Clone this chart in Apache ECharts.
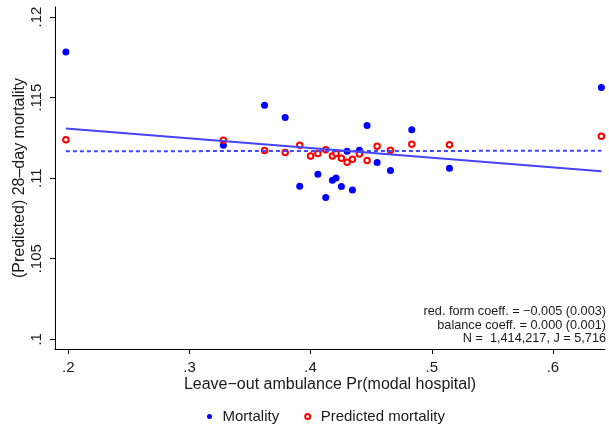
<!DOCTYPE html>
<html><head><meta charset="utf-8">
<script src="https://cdn.jsdelivr.net/npm/echarts@6/dist/echarts.min.js"></script>
<style>html,body{margin:0;padding:0;background:#fff}#c{width:609px;height:425px}</style>
</head><body><div id="c"></div>
<script>
// Shared x values (leave-out ambulance Pr(modal hospital)) for the 20 bins
const binX = [0.198, 0.328, 0.362, 0.379, 0.391, 0.400, 0.406, 0.4125, 0.418, 0.421,
              0.4254, 0.4301, 0.4345, 0.4403, 0.4466, 0.4549, 0.4659, 0.4835, 0.5146, 0.640];
const mortality = [0.11783, 0.11204, 0.11452, 0.11376, 0.10950, 0.11138, 0.11024, 0.10880, 0.10987, 0.11001,
                   0.10948, 0.11167, 0.10927, 0.11173, 0.11326, 0.11097, 0.11047, 0.11301, 0.11061, 0.11562];
const predicted = [0.11239, 0.11235, 0.11171, 0.11159, 0.11204, 0.11138, 0.11153, 0.11177, 0.11138, 0.11153,
                   0.11123, 0.11099, 0.11117, 0.11150, 0.11109, 0.11198, 0.11173, 0.11210, 0.11208, 0.11260];
// Fitted lines (endpoints)
const fitX = [0.198, 0.640];
const fitReduced = [0.11308, 0.11043];
const fitBalance = [0.11167, 0.11170];
// Ticks
const xTicks = [0.2, 0.3, 0.4, 0.5, 0.6];
const xTickLabels = ['.2', '.3', '.4', '.5', '.6'];
const yTicks = [0.1, 0.105, 0.11, 0.115, 0.12];
const yTickLabels = ['.1', '.105', '.11', '.115', '.12'];
const noteLines = ['red. form coeff. = \u22120.005 (0.003)', 'balance coeff. = 0.000 (0.001)', 'N =  1,414,217, J = 5,716'];

const FONT = '"Liberation Sans", Arial, Helvetica, sans-serif';
const TXT = '#1a1a1a';
const zip = (xs, ys) => xs.map((x, i) => [x, ys[i]]);

const chart = echarts.init(document.getElementById('c'), null, {renderer: 'canvas'});
chart.setOption({
  animation: false,
  backgroundColor: '#fff',
  textStyle: {fontFamily: FONT},
  grid: {left: 55, right: 4, top: 7, bottom: 76, containLabel: false, outerBoundsMode: 'none'},
  xAxis: {
    type: 'value', min: 0.189, max: 0.643,
    name: 'Leave\u2212out ambulance Pr(modal hospital)', nameLocation: 'middle', nameGap: 28, nameMoveOverlap: false,
    nameTextStyle: {fontSize: 16, color: TXT, fontFamily: FONT},
    axisLine: {show: true, lineStyle: {color: '#000', width: 1}},
    axisTick: {show: true, length: 5, lineStyle: {color: '#000'}, customValues: xTicks},
    axisLabel: {fontSize: 15, color: TXT, fontFamily: FONT, margin: 11, customValues: xTicks,
      formatter: v => { const i = xTicks.findIndex(t => Math.abs(t - v) < 1e-9); return i >= 0 ? xTickLabels[i] : ''; }},
    splitLine: {show: false}
  },
  yAxis: {
    type: 'value', min: 0.0994, max: 0.12062,
    name: '(Predicted) 28\u2013day mortality', nameLocation: 'middle', nameGap: 27, nameRotate: 90, nameMoveOverlap: false,
    nameTextStyle: {fontSize: 16, color: TXT, fontFamily: FONT},
    axisLine: {show: true, lineStyle: {color: '#000', width: 1}},
    axisTick: {show: true, length: 5, lineStyle: {color: '#000'}, customValues: yTicks},
    axisLabel: {fontSize: 15, color: TXT, fontFamily: FONT, rotate: 90, margin: 11, customValues: yTicks,
      formatter: v => { const i = yTicks.findIndex(t => Math.abs(t - v) < 1e-9); return i >= 0 ? yTickLabels[i] : ''; }},
    splitLine: {show: false}
  },
  legend: {
    top: 404, left: 202, itemWidth: 16, itemHeight: 5, itemGap: 25,
    data: ['Mortality', 'Predicted mortality'],
    textStyle: {fontSize: 15, color: TXT, fontFamily: FONT}
  },
  series: [
    {type: 'line', name: 'fit', data: zip(fitX, fitReduced), symbol: 'none',
     lineStyle: {color: '#4444ff', width: 2}, silent: true},
    {type: 'line', name: 'bal', data: zip(fitX, fitBalance), symbol: 'none',
     lineStyle: {color: '#4444ff', width: 2, type: [4, 3]}, silent: true},
    {type: 'scatter', name: 'Mortality', data: zip(binX, mortality), symbol: 'circle', symbolSize: 7,
     itemStyle: {color: '#0000ff', opacity: 1}},
    {type: 'scatter', name: 'Predicted mortality', data: zip(binX, predicted), symbol: 'emptyCircle', symbolSize: 5.5,
     itemStyle: {color: '#ff0000', borderColor: '#ff0000', borderWidth: 1.3, opacity: 1}}
  ],
  graphic: noteLines.map((t, i) => ({
    type: 'text', right: 3, top: 305 + i * 13.6,
    style: {text: t, fontSize: 12.7, fill: TXT, fontFamily: FONT, textAlign: 'right'}
  }))
});
</script></body></html>
